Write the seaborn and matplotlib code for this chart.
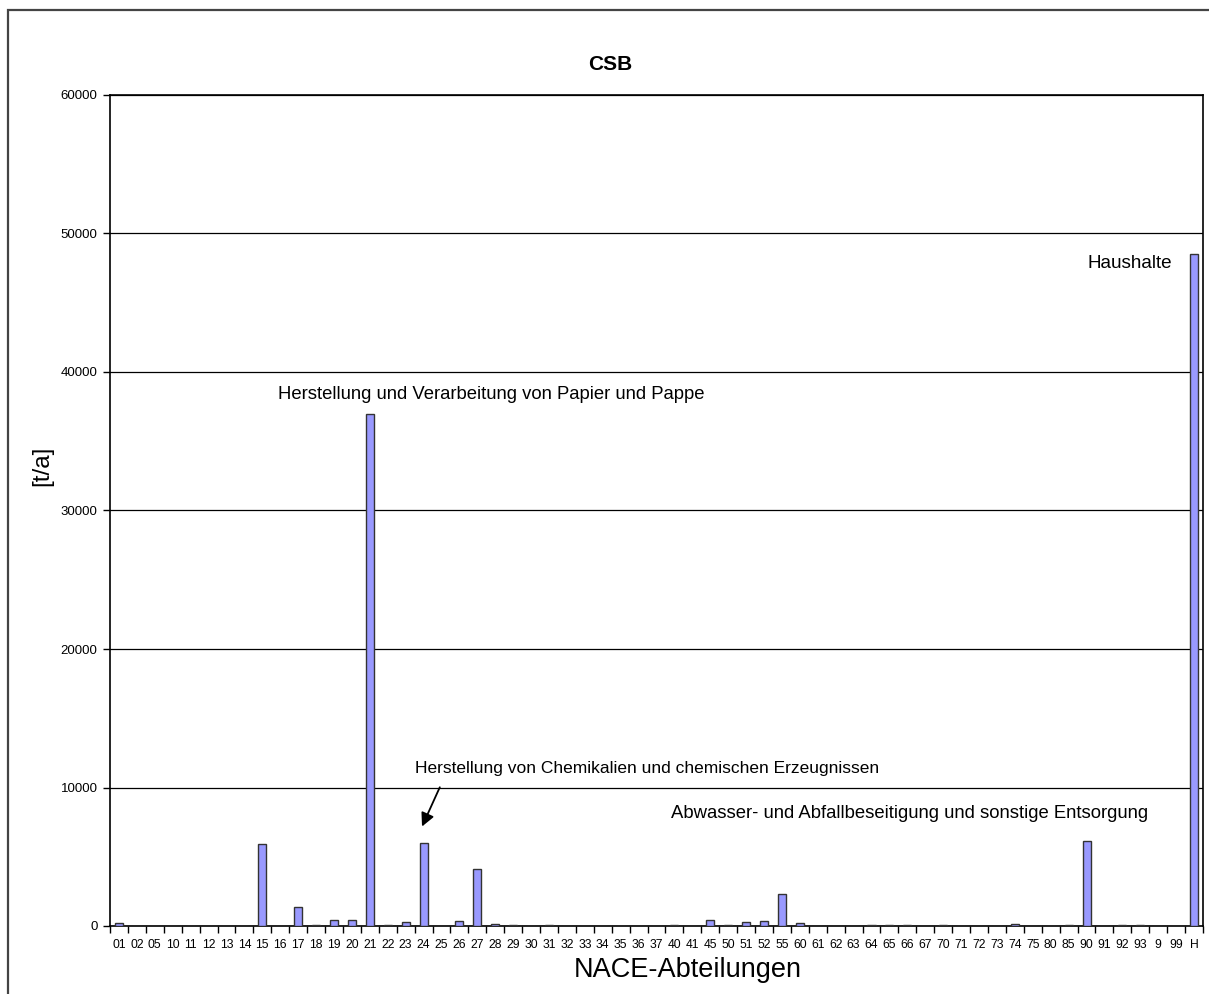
import matplotlib
matplotlib.use("Agg")
import matplotlib.pyplot as plt
import seaborn as sns
import pandas as pd
from matplotlib.patches import Rectangle
from matplotlib.ticker import FixedLocator, NullFormatter

categories = ["01", "02", "05", "10", "11", "12", "13", "14", "15", "16", "17", "18", "19", "20",
              "21", "22", "23", "24", "25", "26", "27", "28", "29", "30", "31", "32", "33", "34",
              "35", "36", "37", "40", "41", "45", "50", "51", "52", "55", "60", "61", "62", "63",
              "64", "65", "66", "67", "70", "71", "72", "73", "74", "75", "80", "85", "90", "91",
              "92", "93", "9", "99", "H"]
values = [250, 0, 0, 0, 0, 0, 0, 0, 5900, 0, 1400, 100, 450, 450,
          37000, 50, 300, 6000, 20, 350, 4100, 150, 60, 0, 40, 20, 0, 20,
          0, 20, 0, 50, 0, 400, 100, 280, 330, 2300, 220, 0, 0, 20,
          60, 80, 40, 0, 40, 0, 0, 0, 120, 0, 0, 60, 6150, 0,
          40, 80, 0, 0, 48500]
yticks = [0, 10000, 20000, 30000, 40000, 50000, 60000]

df = pd.DataFrame({"NACE": categories, "t/a": values})

sns.set_theme(style="white")
plt.rcParams["font.family"] = ["Liberation Sans", "DejaVu Sans"]
plt.rcParams["text.color"] = "black"
plt.rcParams["axes.labelcolor"] = "black"
plt.rcParams["xtick.color"] = "black"
plt.rcParams["ytick.color"] = "black"

fig = plt.figure(figsize=(12.09, 9.94), dpi=100)
ax = fig.add_axes([110 / 1209, 1 - 926 / 994, (1203 - 110) / 1209, (926 - 95) / 994])

sns.barplot(data=df, x="NACE", y="t/a", order=categories, color="#9999FF",
            saturation=1, width=0.45, edgecolor="#333333", linewidth=1.0, ax=ax, zorder=3)

ax.set_xlim(-0.5, len(categories) - 0.5)
ax.set_ylim(0, 60000)
ax.set_yticks(yticks)
ax.set_yticklabels([str(v) for v in yticks], fontsize=9.5, color="black")
ax.yaxis.grid(True, color="black", linewidth=0.9)
ax.set_axisbelow(True)

ax.set_xticks(range(len(categories)))
ax.set_xticklabels(categories, fontsize=8.7, color="black")
ax.tick_params(axis="x", which="major", length=0, pad=9)
ax.xaxis.set_minor_locator(FixedLocator([i - 0.5 for i in range(len(categories) + 1)]))
ax.xaxis.set_minor_formatter(NullFormatter())
ax.tick_params(axis="x", which="minor", length=5, width=1, color="black", bottom=True, direction="out")
ax.tick_params(axis="y", length=5, width=1, color="black", left=True, direction="out", pad=4)

for s in ax.spines.values():
    s.set_visible(True)
    s.set_color("black")
    s.set_linewidth(1.2)

ax.set_xlabel("NACE-Abteilungen", fontsize=19.5)
ax.xaxis.set_label_coords((688 - 110) / 1093, -(970 - 926) / 831)
ax.xaxis.label.set_va("center")
ax.set_ylabel("[t/a]", fontsize=17.5)
ax.yaxis.set_label_coords((42 - 110) / 1093, (926 - 466) / 831)
ax.yaxis.label.set_va("center")
fig.text(610 / 1209, 1 - 65 / 994, "CSB", fontsize=15, fontweight="bold", ha="center", va="center")

ax.text(20.8, 38400, "Herstellung und Verarbeitung von Papier und Pappe", ha="center",
        va="center", fontsize=13.3)
ax.text(29.5, 11400, "Herstellung von Chemikalien und chemischen Erzeugnissen", ha="center",
        va="center", fontsize=12.5)
ax.text(44.1, 8100, "Abwasser- und Abfallbeseitigung und sonstige Entsorgung", ha="center",
        va="center", fontsize=13.3)
ax.text(56.4, 47800, "Haushalte", ha="center", va="center", fontsize=13.6)
ax.annotate("", xy=(16.85, 7000), xytext=(17.97, 10200),
            arrowprops=dict(arrowstyle="-|>", color="black", lw=1.3, mutation_scale=20))

fig.patches.append(Rectangle((8 / 1209, -0.1), 1.1, 1 - 10 / 994 + 0.1,
                             transform=fig.transFigure, fill=False,
                             edgecolor="#444444", linewidth=1.6))

fig.savefig("out.png", dpi=100, facecolor="white")
